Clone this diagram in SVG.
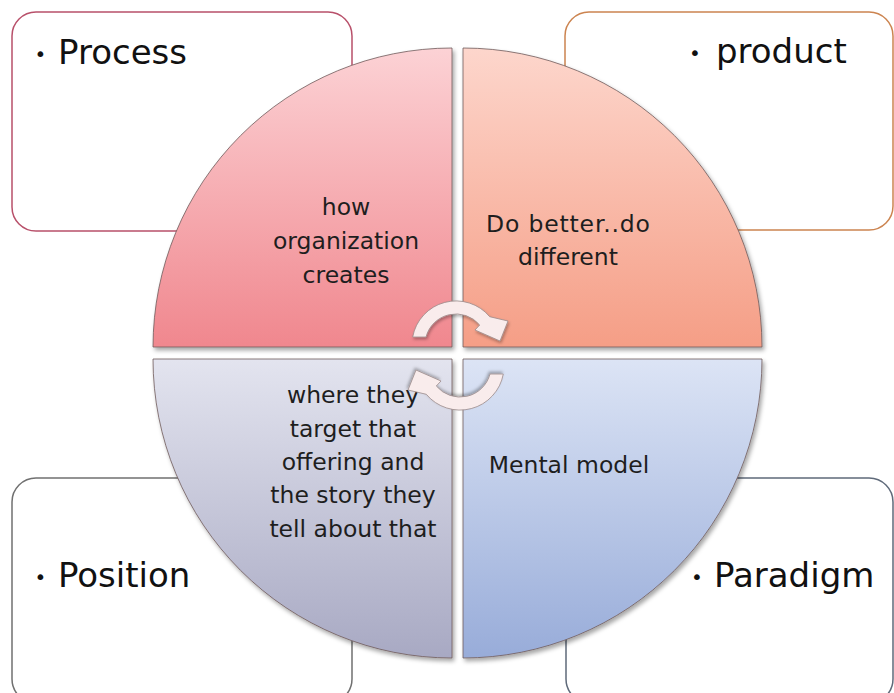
<svg xmlns="http://www.w3.org/2000/svg" width="894" height="693" viewBox="0 0 894 693">
<defs>
<linearGradient id="gTL" x1="0" y1="0" x2="0" y2="1"><stop offset="0" stop-color="#fcd2d5"/><stop offset="1" stop-color="#f0878e"/></linearGradient>
<linearGradient id="gTR" x1="0" y1="0" x2="0" y2="1"><stop offset="0" stop-color="#fdd6cc"/><stop offset="1" stop-color="#f59e86"/></linearGradient>
<linearGradient id="gBL" x1="0" y1="0" x2="0" y2="1"><stop offset="0" stop-color="#e3e4ef"/><stop offset="1" stop-color="#a8a9c3"/></linearGradient>
<linearGradient id="gBR" x1="0" y1="0" x2="0" y2="1"><stop offset="0" stop-color="#dce4f5"/><stop offset="1" stop-color="#98acd9"/></linearGradient>
<filter id="sh" x="-10%" y="-10%" width="120%" height="120%"><feDropShadow dx="2" dy="3" stdDeviation="2" flood-color="#000" flood-opacity="0.35"/></filter>
<filter id="ash" x="-20%" y="-20%" width="140%" height="140%"><feDropShadow dx="1" dy="2" stdDeviation="1.5" flood-color="#000" flood-opacity="0.3"/></filter>
</defs>
<style>
.box{fill:#ffffff;stroke-width:1.5}
.quad{stroke:#6e5a5a;stroke-width:0.8;filter:url(#sh)}
.lbl{font-family:"DejaVu Sans","Liberation Sans",sans-serif;font-size:34px;fill:#111}
.bul{font-size:20px}
.in{font-family:"DejaVu Sans","Liberation Sans",sans-serif;font-size:23.5px;fill:#1e1e1e;text-anchor:middle}
.arr{fill:#f9ecec;stroke:#9a8a8a;stroke-width:0.8;filter:url(#ash)}
</style>
<rect width="894" height="693" fill="#ffffff"/>

<g id="box-process">
<rect class="box" x="12" y="12" width="340" height="219" rx="24" stroke="#b8506a"/>
<text class="lbl" x="34.5" y="64"><tspan class="bul" dy="-3">•</tspan><tspan x="58" dy="3">Process</tspan></text>
</g>
<g id="box-product">
<rect class="box" x="565" y="12" width="328" height="218" rx="24" stroke="#cc8450"/>
<text class="lbl" x="689" y="63"><tspan class="bul" dy="-3">•</tspan><tspan x="716" dy="3">product</tspan></text>
</g>
<g id="box-position">
<rect class="box" x="12" y="478" width="340" height="225" rx="24" stroke="#707070"/>
<text class="lbl" x="34.5" y="587"><tspan class="bul" dy="-3">•</tspan><tspan x="58" dy="3">Position</tspan></text>
</g>
<g id="box-paradigm">
<rect class="box" x="566" y="478" width="327" height="225" rx="24" stroke="#5f6a7a"/>
<text class="lbl" x="691" y="587"><tspan class="bul" dy="-3">•</tspan><tspan x="714" dy="3">Paradigm</tspan></text>
</g>

<g id="quad-process">
<path class="quad" fill="url(#gTL)" d="M452,347 L153,347 A299,299 0 0 1 452,48 Z"/>
<text class="in" x="346" y="215">how</text>
<text class="in" x="346" y="249">organization</text>
<text class="in" x="346" y="283">creates</text>
</g>
<g id="quad-product">
<path class="quad" fill="url(#gTR)" d="M463,347 L463,48 A299,299 0 0 1 762,347 Z"/>
<text class="in" x="568" y="232" textLength="164" lengthAdjust="spacing">Do better..do</text>
<text class="in" x="568" y="265">different</text>
</g>
<g id="quad-position">
<path class="quad" fill="url(#gBL)" d="M452,359 L452,658 A299,299 0 0 1 153,359 Z"/>
<text class="in" x="353" y="403">where they</text>
<text class="in" x="353" y="437">target that</text>
<text class="in" x="353" y="470">offering and</text>
<text class="in" x="353" y="503">the story they</text>
<text class="in" x="353" y="537">tell about that</text>
</g>
<g id="quad-paradigm">
<path class="quad" fill="url(#gBR)" d="M463,359 L762,359 A299,299 0 0 1 463,658 Z"/>
<text class="in" x="569" y="473">Mental model</text>
</g>

<g id="connectors">
<path id="arrow-top" class="arr" d="M412.7,337 A44,44 0 0 1 489.7,316.7 L508,321 L500,341 L475,330 L479.7,325 A31,31 0 0 0 426,337 Z"/>
<path id="arrow-bottom" class="arr" transform="rotate(180 458 355.5)" d="M412.7,337 A44,44 0 0 1 489.7,316.7 L508,321 L500,341 L475,330 L479.7,325 A31,31 0 0 0 426,337 Z"/>
</g>
</svg>
